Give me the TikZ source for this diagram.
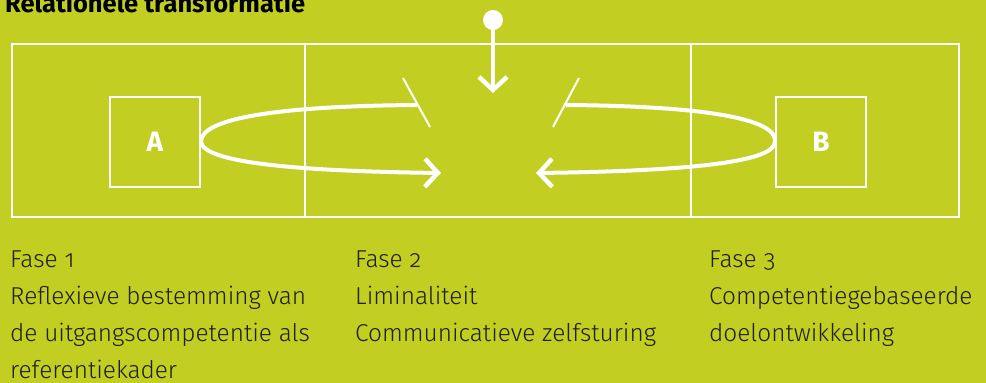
\documentclass[tikz,border=0pt]{standalone}
\usepackage{fontspec}
\setmainfont{Fira Sans}[UprightFont=* Light, BoldFont=* Bold, Numbers=OldStyle]
\usetikzlibrary{arrows.meta}
\definecolor{bg}{RGB}{195,206,34}
\definecolor{ink}{RGB}{30,32,20}
\tikzset{
  frame/.style={draw=white, line width=2pt},
  letterbox/.style={draw=white, line width=2pt, minimum width=90pt, minimum height=90pt, inner sep=0pt, font=\bfseries\fontsize{28}{28}\selectfont, text=white},
  loop/.style={draw=white, line width=4pt},
  tick/.style={draw=white, line width=2pt},
  chev/.style={-{Straight Barb[length=13pt,width=28pt,line width=4.5pt]}},
  phase/.style={anchor=north west, align=left, inner sep=0pt, text=ink, font=\fontsize{24.4}{36.7}\selectfont}
}
\begin{document}
\begin{tikzpicture}[x=1pt,y=-1pt]
\useasboundingbox[fill=bg] (0,0) rectangle (986,383);
% title
\node[anchor=base west, inner sep=0pt, font=\bfseries\fontsize{25.5}{25.5}\selectfont, text=black] (title) at (5,12) {Relationele transformatie};
% frame
\draw[frame] (12,44) rectangle (959,217);
\draw[frame] (305,44) -- (305,217);
\draw[frame] (691,44) -- (691,217);
% boxes
\node[letterbox] (A) at (155,142) {A};
\node[letterbox] (B) at (821,142) {B};
% top dot and arrow
\fill[white] (493,20) circle (10);
\coordinate (dot) at (493,20);
\coordinate (downtip) at (493,93);
\draw[white, line width=4pt, chev] (dot) -- (downtip);
% left loop
\coordinate (ltop) at (417,105);
\coordinate (lleft) at (A.east);
\coordinate (ltip) at (441,173);
\draw[loop, chev] (ltop) .. controls (280,106) and (200,118) .. (lleft) .. controls (204,162) and (290,171) .. (ltip);
\coordinate (lt1) at (403,78);
\coordinate (lt2) at (430,127);
\draw[tick] (lt1) -- (lt2);
% right loop
\coordinate (rtop) at (566,105);
\coordinate (rright) at (B.west);
\coordinate (rtip) at (536,173);
\draw[loop, chev] (rtop) .. controls (700,106) and (778,118) .. (rright) .. controls (774,162) and (690,171) .. (rtip);
\coordinate (rt1) at (579,78);
\coordinate (rt2) at (553,127);
\draw[tick] (rt1) -- (rt2);
% phase texts
\node[phase] (f1) at (10,251) {Fase 1\\Reflexieve bestemming van\\de uitgangscompetentie als\\referentiekader};
\node[phase] (f2) at (355,251) {Fase 2\\Liminaliteit\\Communicatieve zelfsturing};
\node[phase] (f3) at (709,251) {Fase 3\\Competentiegebaseerde\\doelontwikkeling};
\end{tikzpicture}
\end{document}
